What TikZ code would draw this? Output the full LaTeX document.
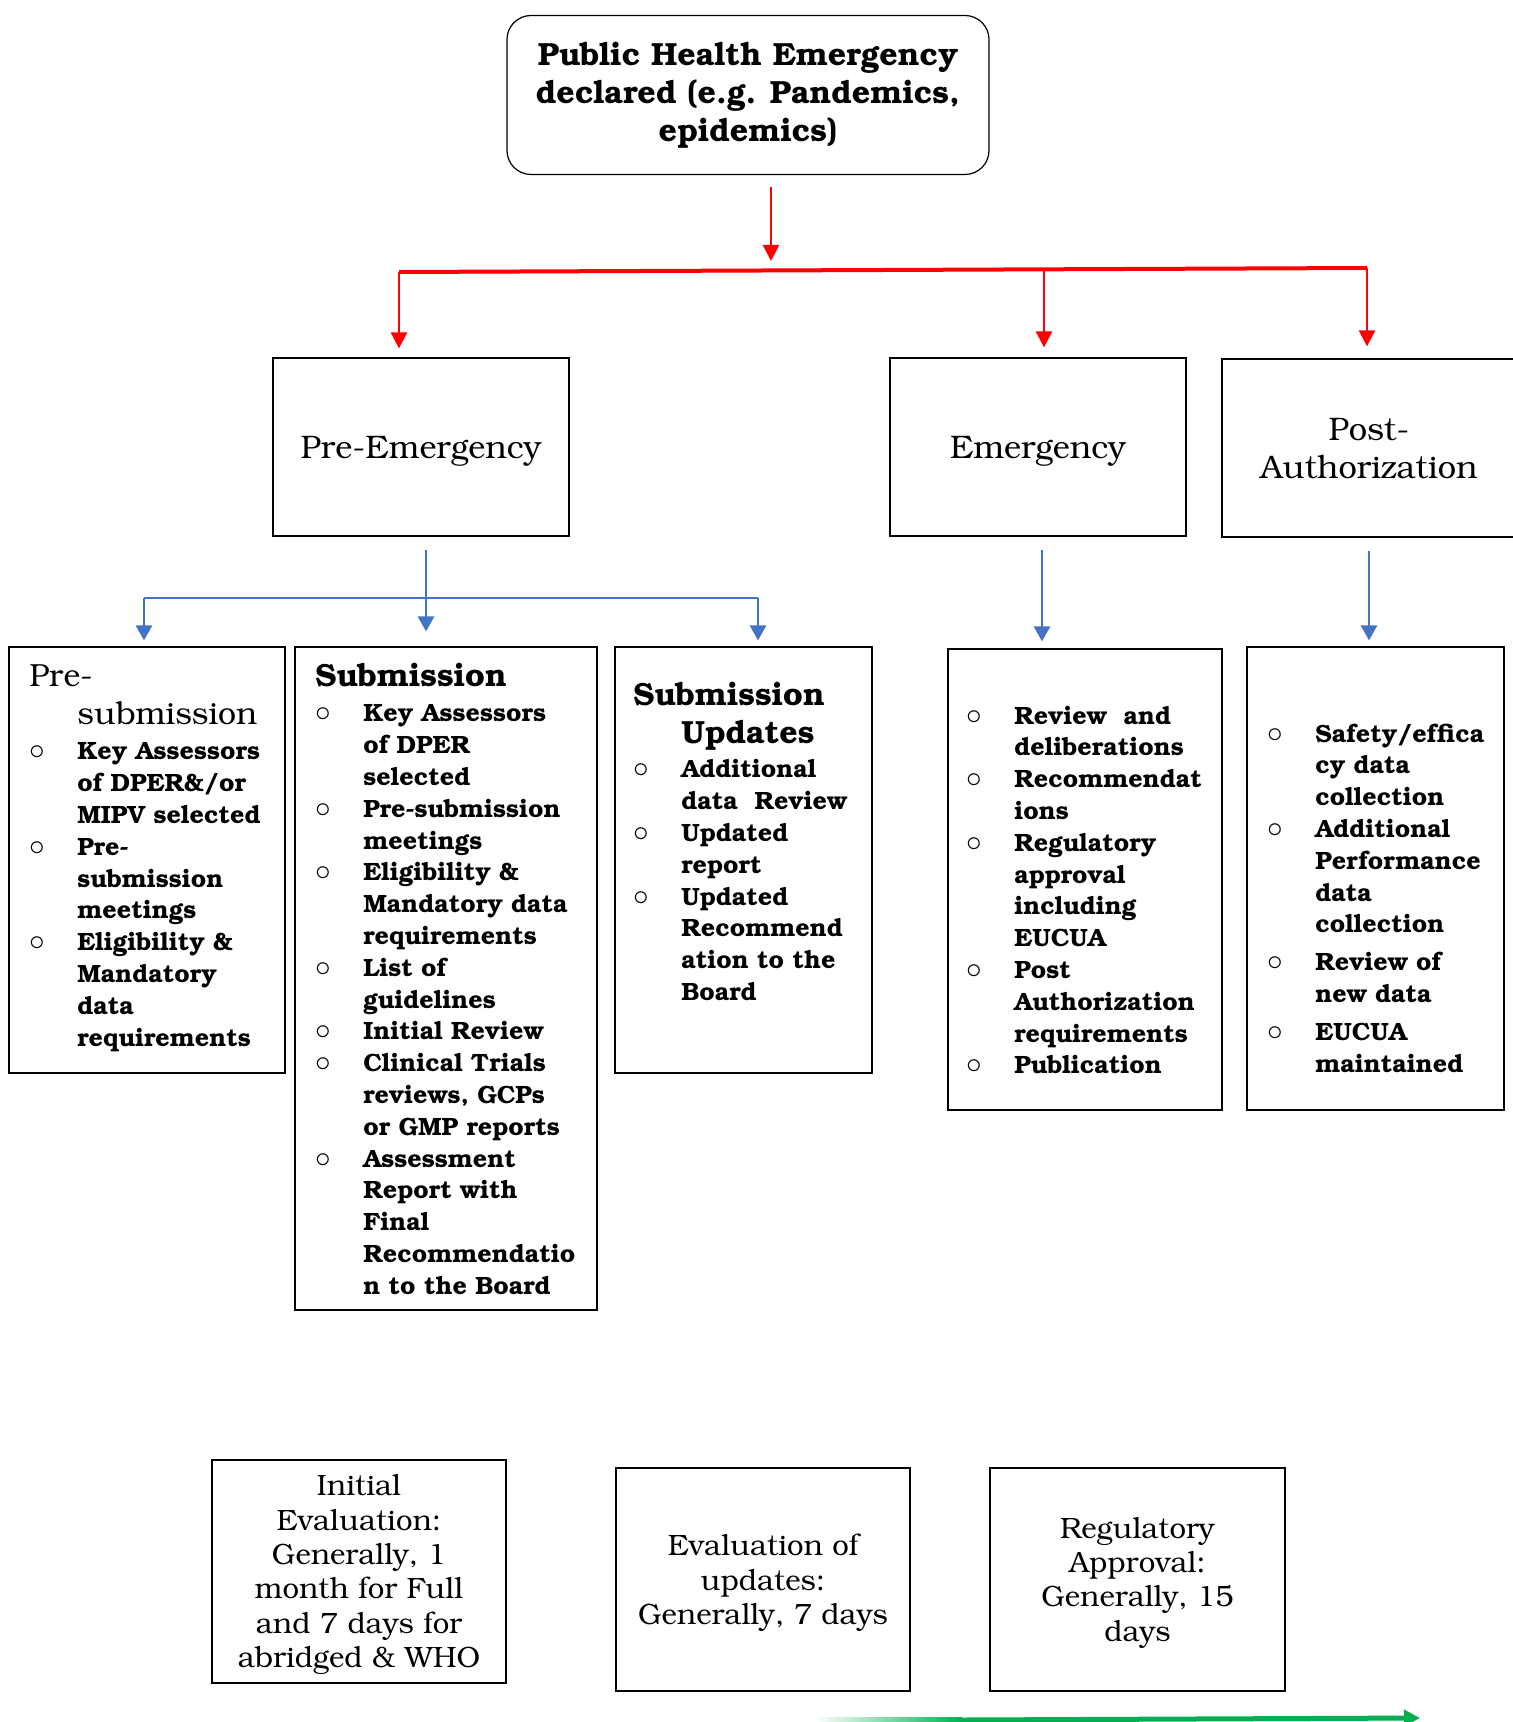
\documentclass[tikz,border=0pt]{standalone}
\usepackage[T1]{fontenc}
\usepackage{bookman}
\usetikzlibrary{arrows.meta,positioning}
\definecolor{flowblue}{HTML}{4472C4}
\definecolor{tlgreen}{HTML}{00B050}
\newcommand{\bul}[1]{{\let\\\newline\hangindent=24pt\hangafter=1\noindent\makebox[24pt][l]{\scalebox{1.3}{$\circ$}}#1\par}}
\newcommand{\hd}[1]{{\let\\\newline\hangindent=24pt\hangafter=1\noindent#1\par}}

\begin{document}
\begin{tikzpicture}[
  x=0.5pt, y=-0.5pt,
  box/.style={draw, line width=0.6pt, inner sep=0pt},
  phase/.style={box, minimum width=148pt, minimum height=89pt, align=center, text depth=0pt, font=\fontsize{16.3}{19}\selectfont},
  evalbox/.style={box, minimum width=147pt, minimum height=111.5pt, align=center, text depth=0pt, font=\fontsize{14.7}{17.2}\selectfont},
  list/.style={anchor=base west, inner sep=0pt, text width=160pt, align=left, font=\fontsize{12.5}{15.9}\selectfont\bfseries},
  redflow/.style={draw=red, line width=1.3pt, -{Triangle[length=8pt,width=8pt]}},
  blueflow/.style={draw=flowblue, line width=1.4pt, -{Triangle[length=7.5pt,width=8pt]}}
]
\useasboundingbox (0,0) rectangle (1513,1722);

% top of the chart
\node[box, minimum width=241pt, minimum height=79.5pt, rounded corners=12pt, align=center,
  font=\fontsize{16}{19}\selectfont\bfseries] (tb) at (748,95)
  {Public Health Emergency\\declared (e.g. Pandemics,\\epidemics)};

\node[phase] (pe) at (421,447) {Pre-Emergency};
\node[phase] (em) at (1038,447) {Emergency};
\node[phase, minimum width=147pt] (pa) at (1369,448) {Post-\\Authorization};

% red split
\coordinate (rsplit) at (771,270);
\coordinate (rbl) at (399,272);
\coordinate (rbm) at (1044,270);
\coordinate (rbr) at (1367,268);
\draw[redflow, shorten <=6pt, shorten >=4.5pt] (tb.south -| rsplit) -- (rsplit);
\draw[red, line width=2pt] (rbl) -- (rbr);
\draw[redflow, shorten >=4.5pt] (rbl) -- (rbl |- pe.north);
\draw[redflow, shorten >=5pt] (rbm) -- (rbm |- em.north);
\draw[redflow, shorten >=6pt] (rbr) -- (rbr |- pa.north);

% lists
\node[box, minimum width=138pt, minimum height=213pt] (presub) at (147,860) {};
\node[box, minimum width=151pt, minimum height=331.5pt] (sub) at (446,978.5) {};
\node[box, minimum width=128.5pt, minimum height=213pt] (subupd) at (743.5,860) {};
\node[box, minimum width=137pt, minimum height=230.5pt] (emglist) at (1085,879.5) {};
\node[box, minimum width=128.5pt, minimum height=231.5pt] (postlist) at (1375.5,878.5) {};

\node[list] (presubtxt) at (29,686) {%
  \hd{\fontsize{16}{19}\selectfont\mdseries Pre-\\submission}\vspace{2pt}
  \bul{Key Assessors\\of DPER\&/or\\MIPV selected}
  \bul{Pre-\\submission\\meetings}
  \bul{Eligibility \&\\Mandatory\\data\\requirements}};

\node[list] (subtxt) at (315,686) {%
  \hd{\fontsize{16}{19}\selectfont Submission}\vspace{2pt}
  \bul{Key Assessors\\of DPER\\selected}
  \bul{Pre-submission\\meetings}
  \bul{Eligibility \&\\Mandatory data\\requirements}
  \bul{List of\\guidelines}
  \bul{Initial Review}
  \bul{Clinical Trials\\reviews, GCPs\\or GMP reports}
  \bul{Assessment\\Report with\\Final\\Recommendatio\\n to the Board}};

\node[list] (subupdtxt) at (633,705) {%
  \hd{\fontsize{16}{19}\selectfont Submission\\Updates}\vspace{1.5pt}
  \bul{Additional\\data~~Review}
  \bul{Updated\\report}
  \bul{Updated\\Recommend\\ation to the\\Board}};

\node[list] (emgtxt) at (966,724) {%
  \bul{Review~~and\\deliberations}
  \bul{Recommendat\\ions}
  \bul{Regulatory\\approval\\including\\EUCUA}
  \bul{Post\\Authorization\\requirements}
  \bul{Publication}};

\node[list] (posttxt) at (1267,742) {%
  \bul{Safety/effica\\cy data\\collection}
  \bul{Additional\\Performance\\data\\collection}\vspace{3pt}
  \bul{Review of\\new data}\vspace{3pt}
  \bul{EUCUA\\maintained}};

% blue arrows
\coordinate (bbl) at (144,598);
\coordinate (bbm) at (426,598);
\coordinate (bbr) at (758,598);
\draw[flowblue, line width=1.4pt] (bbl) -- (bbr);
\draw[blueflow, shorten <=6.5pt, shorten >=7.5pt] (bbm |- pe.south) -- (bbm |- sub.north);
\draw[blueflow, shorten >=3pt] (bbl) -- (bbl |- presub.north);
\draw[blueflow, shorten >=3pt] (bbr) -- (bbr |- subupd.north);
\draw[blueflow, shorten <=6.5pt, shorten >=3.5pt] ([xshift=2pt]em.south) -- ([xshift=2pt]em.south |- emglist.north);
\draw[blueflow, shorten <=6.5pt, shorten >=3pt] (pa.south) -- (pa.south |- postlist.north);

% timelines
\node[evalbox] (ev1) at (359,1571.5) {Initial\\Evaluation:\\Generally, 1\\month for Full\\and 7 days for\\abridged \& WHO};
\node[evalbox] (ev2) at (763,1579.5) {Evaluation of\\updates:\\Generally, 7 days};
\node[evalbox, minimum width=147.5pt] (ev3) at (1137.5,1579.5) {Regulatory\\Approval:\\Generally, 15\\days};

\coordinate (tl0) at (815,1720);
\coordinate (tl1) at (962,1720);
\coordinate (tl2) at (1420,1718);
\shade[left color=white, right color=tlgreen] (tl0) ++(0,-2.5) rectangle ([yshift=-1.25pt]tl1);
\draw[tlgreen, line width=2.5pt, -{Triangle[length=8pt,width=8pt]}] (tl1) -- (tl2);
\end{tikzpicture}
\end{document}
